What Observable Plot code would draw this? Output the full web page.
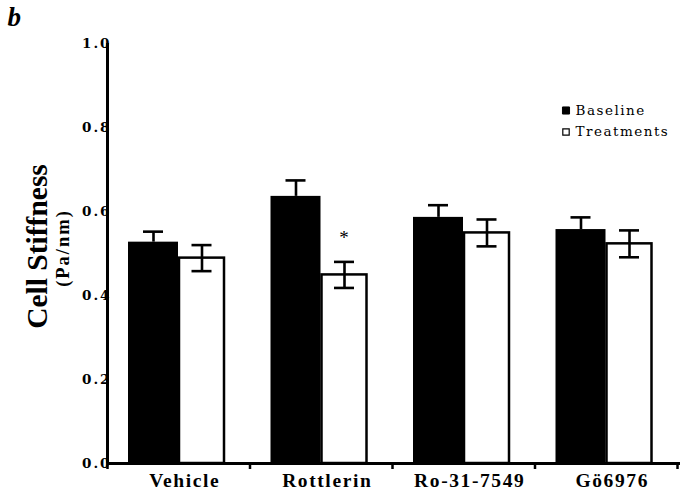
<!DOCTYPE html>
<html>
<head>
<meta charset="utf-8">
<script src="https://cdn.jsdelivr.net/npm/d3@7"></script>
<script src="https://cdn.jsdelivr.net/npm/@observablehq/plot@0.6"></script>
<style>
  html, body { margin: 0; padding: 0; background: #fff; }
  #chart svg { display: block; }
  .ls-tick text { letter-spacing: 2px; }
  .ls-cat text { letter-spacing: 1.6px; }
  .ls-legend text { letter-spacing: 1.5px; }
  .ls-unit text { letter-spacing: 2px; }
</style>
</head>
<body>
<div id="chart"></div>
<script>
// ---- data ----
const groups = ["Vehicle", "Rottlerin", "Ro-31-7549", "Gö6976"];
const seriesNames = ["Baseline", "Treatments"];
const baseline = [0.527, 0.636, 0.586, 0.557];
const baselineErr = [0.025, 0.038, 0.029, 0.029];
const treatment = [0.489, 0.449, 0.549, 0.523];
const treatmentErr = [0.031, 0.031, 0.032, 0.032];
const yTicks = [0, 0.2, 0.4, 0.6, 0.8, 1.0];
const significant = [{group: "Rottlerin", series: "Treatments", mark: "*"}];
const yTitle = "Cell Stiffness";
const yUnit = "(Pa/nm)";
const panelLetter = "b";

// ---- build rows ----
const gi = g => groups.indexOf(g);
const baseRows = groups.map((g, i) => ({group: g, series: seriesNames[0], value: baseline[i], lo: baseline[i] - baselineErr[i], hi: baseline[i] + baselineErr[i]}));
const treatRows = groups.map((g, i) => ({group: g, series: seriesNames[1], value: treatment[i], lo: treatment[i] - treatmentErr[i], hi: treatment[i] + treatmentErr[i]}));
const sigRows = significant.map(s => ({...s, hi: treatRows[gi(s.group)].hi}));

const serif = "Liberation Serif, Times New Roman, serif";
const wide = "DejaVu Serif, serif";

const chart = Plot.plot({
  width: 682,
  height: 497,
  marginLeft: 107,
  marginTop: 43,
  marginBottom: 34,
  marginRight: 5,
  style: {background: "#fff", overflow: "visible"},
  x: {type: "linear", domain: [0, groups.length], axis: null},
  y: {domain: [0, 1], axis: null},
  marks: [
    // bars
    Plot.rectY(baseRows, {x1: d => gi(d.group), x2: d => gi(d.group) + 1, y: "value", fill: "#000", insetLeft: 21, insetRight: 71.5}),
    Plot.rectY(treatRows, {x1: d => gi(d.group), x2: d => gi(d.group) + 1, y: "value", fill: "#fff", stroke: "#000", strokeWidth: 2.5, insetLeft: 72, insetRight: 25.5}),
    // error bars
    Plot.ruleX(baseRows, {x: d => gi(d.group), dx: 46, y1: "value", y2: "hi", stroke: "#000", strokeWidth: 2.6}),
    Plot.ruleY(baseRows, {y: "hi", x1: d => gi(d.group), x2: d => gi(d.group) + 1, insetLeft: 36, insetRight: 86.5, stroke: "#000", strokeWidth: 2.6}),
    Plot.ruleX(treatRows, {x: d => gi(d.group), dx: 94.5, y1: "lo", y2: "hi", stroke: "#000", strokeWidth: 2.6}),
    Plot.ruleY(treatRows, {y: "hi", x1: d => gi(d.group), x2: d => gi(d.group) + 1, insetLeft: 84.5, insetRight: 38, stroke: "#000", strokeWidth: 2.6}),
    Plot.ruleY(treatRows, {y: "lo", x1: d => gi(d.group), x2: d => gi(d.group) + 1, insetLeft: 84.5, insetRight: 38, stroke: "#000", strokeWidth: 2.6}),
    // significance
    Plot.text(sigRows, {x: d => gi(d.group), dx: 94, y: "hi", dy: -24, text: "mark", fontSize: 19, fontFamily: serif, fill: "#000", lineAnchor: "middle"}),
    // axes lines
    Plot.ruleX([0], {stroke: "#000", strokeWidth: 3}),
    Plot.ruleY([0], {stroke: "#000", strokeWidth: 3, insetRight: -3}),
    // boundary ticks
    Plot.axisX(d3.range(groups.length + 1), {tickSize: 6, tickFormat: () => "", strokeWidth: 2.5, stroke: "#000"}),
    // category labels
    Plot.text(groups, {x: (d, i) => i + 0.5, frameAnchor: "bottom", dy: 17, dx: 6, fontSize: 19.5, fontWeight: "bold", fontFamily: serif, fill: "#000", lineAnchor: "middle", className: "ls-cat"}),
    // y tick labels
    Plot.text(yTicks, {y: d => d, text: d3.format(".1f"), frameAnchor: "left", textAnchor: "end", dx: 4, lineAnchor: "middle", fontSize: 13.5, fontWeight: "bold", fontFamily: wide, fill: "#000", className: "ls-tick"}),
    // y titles
    Plot.text([yTitle], {frameAnchor: "left", dx: -70, dy: -7, rotate: -90, textAnchor: "middle", fontSize: 29.5, fontWeight: "bold", fontFamily: serif, fill: "#000", lineAnchor: "middle"}),
    Plot.text([yUnit], {frameAnchor: "left", dx: -44, dy: -5.5, rotate: -90, textAnchor: "middle", fontSize: 18.5, fontWeight: "bold", fontFamily: serif, fill: "#000", lineAnchor: "middle", className: "ls-unit"}),
    // panel letter
    Plot.text([panelLetter], {frameAnchor: "top-left", dx: -100, dy: -26, fontSize: 27, fontWeight: "bold", fontStyle: "italic", fontFamily: serif, fill: "#000", lineAnchor: "middle"}),
    // legend
    Plot.dot([seriesNames[0]], {frameAnchor: "top-left", dx: 458.5, dy: 67, symbol: "square", r: 4, fill: "#000", stroke: "#000", strokeWidth: 1}),
    Plot.dot([seriesNames[1]], {frameAnchor: "top-left", dx: 458.5, dy: 88.5, symbol: "square", r: 3.6, fill: "#fff", stroke: "#000", strokeWidth: 1.2}),
    Plot.text([seriesNames[0]], {frameAnchor: "top-left", dx: 468, dy: 67, textAnchor: "start", lineAnchor: "middle", fontSize: 13.5, fontFamily: wide, fill: "#000", className: "ls-legend"}),
    Plot.text([seriesNames[1]], {frameAnchor: "top-left", dx: 468, dy: 88.5, textAnchor: "start", lineAnchor: "middle", fontSize: 13.5, fontFamily: wide, fill: "#000", className: "ls-legend"})
  ]
});
document.getElementById("chart").appendChild(chart);
</script>
</body>
</html>
